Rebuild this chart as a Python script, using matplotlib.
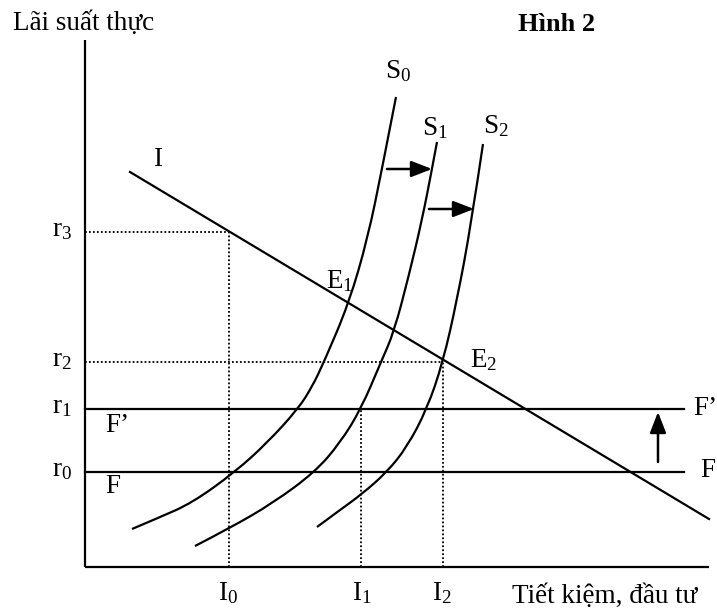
import matplotlib
matplotlib.use("Agg")
import matplotlib.pyplot as plt
from matplotlib.path import Path
from matplotlib.patches import PathPatch

plt.rcParams['font.family'] = ['Liberation Serif', 'DejaVu Serif']
plt.rcParams['mathtext.fontset'] = 'custom'
plt.rcParams['mathtext.rm'] = 'Liberation Serif'
plt.rcParams['mathtext.it'] = 'Liberation Serif:italic'
plt.rcParams['mathtext.bf'] = 'Liberation Serif:bold'

# ---- data (diagram units, origin at axes corner) ----
rates = [95, 158, 205, 335]          # r0, r1, r2, r3
rate_labels = ['r', 'r', 'r', 'r']
rate_subs = ['0', '1', '2', '3']
invest = [144, 276, 358]             # I0, I1, I2
invest_subs = ['0', '1', '2']

s0_x = [47, 73, 107, 150, 182, 213, 227, 239, 264, 283, 297, 311]
s0_y = [38, 49, 64, 95, 124, 158, 180, 205, 264, 330, 398, 470]
s1_x = [110, 145, 188, 230, 255, 276, 296, 309, 324, 337, 347, 352]
s1_y = [21, 39, 64, 95, 124, 158, 205, 235, 292, 347, 398, 425]
s2_x = [232, 255, 277, 302, 322, 342, 358, 372, 386, 398]
s2_y = [40, 57, 73, 95, 120, 158, 205, 267, 342, 423]

i_x = [45, 624]
i_y = [395, 48]

f_x = [0, 599]
axis_top = 527
axis_right = 624

fig = plt.figure(figsize=(7.17, 6.10), dpi=100)
ax = fig.add_axes([0, 0, 1, 1])
ax.set_xlim(-85, 632)
ax.set_ylim(-43, 567)
ax.axis('off')

lw = 1.6
col = 'black'
# axes
ax.plot([0, 0], [0, axis_top], color=col, lw=lw, solid_capstyle='butt')
ax.plot([0, axis_right], [0, 0], color=col, lw=lw, solid_capstyle='butt')

# F and F' lines
ax.plot(f_x, [rates[0], rates[0]], color=col, lw=lw)
ax.plot(f_x, [rates[1], rates[1]], color=col, lw=lw)

# dotted guides
dot = dict(color=col, lw=1.3, linestyle=(0, (1, 1.2)))
ax.plot([0, invest[0]], [rates[3], rates[3]], **dot)
ax.plot([invest[0], invest[0]], [0, rates[3]], **dot)
ax.plot([0, invest[2]], [rates[2], rates[2]], **dot)
ax.plot([invest[2], invest[2]], [0, rates[2]], **dot)
ax.plot([invest[1], invest[1]], [0, rates[1]], **dot)


def smooth_curve(xs, ys):
    """Smooth quadratic-Bezier path using the read points as control points."""
    pts = list(zip(xs, ys))
    verts = [pts[0]]
    codes = [Path.MOVETO]
    for i in range(1, len(pts) - 1):
        nxt = pts[i + 1] if i + 1 == len(pts) - 1 else (
            ((pts[i][0] + pts[i + 1][0]) / 2, (pts[i][1] + pts[i + 1][1]) / 2))
        verts += [pts[i], nxt]
        codes += [Path.CURVE3, Path.CURVE3]
    return PathPatch(Path(verts, codes), fill=False, edgecolor=col, lw=lw,
                     capstyle='butt', joinstyle='round')


for xs, ys in [(s0_x, s0_y), (s1_x, s1_y), (s2_x, s2_y)]:
    ax.add_patch(smooth_curve(xs, ys))
ax.plot(i_x, i_y, color=col, lw=lw)

# arrows
ap = dict(arrowstyle='-|>,head_length=0.9,head_width=0.35', color=col, lw=1.8,
          shrinkA=0, shrinkB=0, mutation_scale=14)
ax.annotate('', xy=(347, 398), xytext=(302, 398), arrowprops=ap)
ax.annotate('', xy=(389, 358), xytext=(344, 358), arrowprops=ap)
ax.annotate('', xy=(573, 155), xytext=(573, 105), arrowprops=ap)

fs = 19.5
def lab(x, y, s, **kw):
    kw.setdefault('fontsize', fs)
    ax.text(x, y, s, va='baseline', ha='left', **kw)

# rate labels
for r, base, sub in zip(rates, rate_labels, rate_subs):
    lab(-33, r - 4, r'$\mathrm{%s}_{%s}$' % (base, sub))
# investment labels
inv_left = [133, 267, 347]
for xl, sub in zip(inv_left, invest_subs):
    lab(xl, -33, r'$\mathrm{I}_{%s}$' % sub)

lab(300, 489, r'$\mathrm{S}_{0}$')
lab(337, 432, r'$\mathrm{S}_{1}$')
lab(398, 434, r'$\mathrm{S}_{2}$')
lab(68, 401, 'I')
lab(241, 279, r'$\mathrm{E}_{1}$')
lab(385, 200, r'$\mathrm{E}_{2}$')
lab(608, 152, 'F\u2019')
lab(615, 90, 'F')
lab(20, 135, 'F\u2019')
lab(20, 74, 'F')

lab(-72, 537, 'Lãi suất thực')
lab(433, 536, 'Hình 2', fontweight='bold', fontsize=19)
lab(427, -36, 'Tiết kiệm, đầu tư')

fig.savefig('out.png', dpi=100)
